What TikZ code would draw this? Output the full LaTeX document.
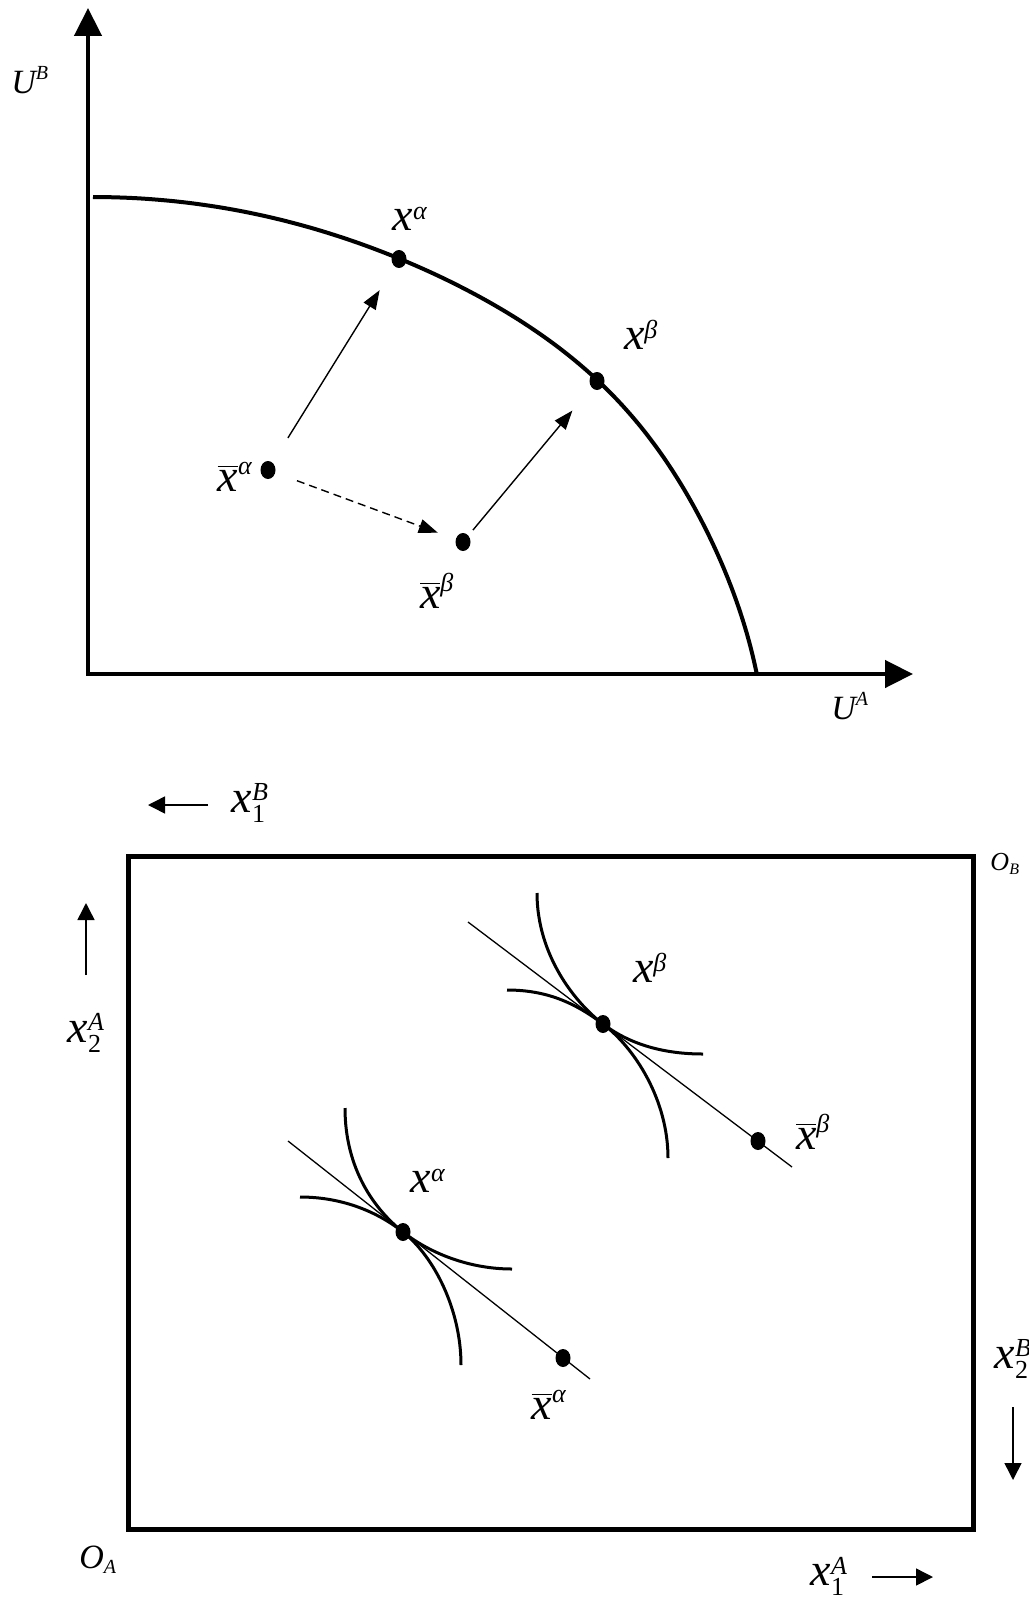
\documentclass[tikz,border=0pt]{standalone}
\usepackage{fontspec}
\setmainfont{Liberation Serif}
\usepackage{amsmath}
\usetikzlibrary{arrows.meta,shapes.geometric}

\DeclareMathSizes{46}{46}{26}{18}
\DeclareMathSizes{34}{34}{20}{15}
\DeclareMathSizes{26}{26}{16}{12}
\newcommand*{\vi}[1]{\text{\itshape #1}}

\begin{document}
\begin{tikzpicture}
[
	x=1pt,
	y=-1pt,
	dot/.style={ellipse,fill,inner sep=0pt,minimum width=15pt,minimum height=18pt},
	lbl/.style={inner sep=0pt,font=\fontsize{46}{52}\selectfont},
	lblmid/.style={inner sep=0pt,font=\fontsize{34}{40}\selectfont},
	lblsmall/.style={inner sep=0pt,font=\fontsize{26}{30}\selectfont},
	axis/.style={line width=4.5pt,{Triangle[length=28pt,width=27pt]}-{Triangle[length=28pt,width=27pt]}},
	thinarrow/.style={line width=1.4pt,-{Triangle[length=19pt,width=14pt]}},
	smallarrow/.style={line width=1.5pt,-{Triangle[length=17pt,width=17pt]}},
	indiff/.style={line width=3pt},
	budget/.style={line width=1.3pt}
]
	\useasboundingbox (0,0) rectangle (1028,1602);

	% utility space: axes
	\coordinate (O) at (88,674);
	\coordinate (UBtip) at (88,8);
	\coordinate (UAtip) at (913,674);
	\draw[axis] (UBtip) -- (O) -- (UAtip);
	\node[lblmid] (lUB) at (30,80) {$\vi{U}^{\vi{B}}$};
	\node[lblmid] (lUA) at (850,706) {$\vi{U}^{\vi{A}}$};

	% frontier
	\draw[line width=4pt] plot[domain=90:10, samples=60, smooth] ({93+674*cos(\x)+12*sin(2*\x)^6}, {774-577*sin(\x)});

	% allocations
	\node[dot] (uxa) at (399,259) {};
	\node[dot] (uxb) at (597,381) {};
	\node[dot] (uxab) at (268,470) {};
	\node[dot] (uxbb) at (463,542) {};
	\node[lbl] (luxa) at (410,219) {$\vi{x}^{\vi{α}}$};
	\node[lbl] (luxb) at (641,335) {$\vi{x}^{\vi{β}}$};
	\node[lbl] (luxab) at (235,477) {$\overline{\vi{x}}^{\vi{α}}$};
	\node[lbl] (luxbb) at (437,591) {$\overline{\vi{x}}^{\vi{β}}$};

	\draw[thinarrow,shorten <=29pt,shorten >=28pt] (uxab) -- (uxa);
	\draw[thinarrow,dash pattern=on 8pt off 5pt,shorten <=23pt,shorten >=19pt] (uxab) -- (uxbb);
	\draw[thinarrow,shorten <=7pt,shorten >=30pt] (uxbb) -- (uxb);

	% Edgeworth box
	\coordinate (OA) at (128,1529);
	\coordinate (OB) at (973,856);
	\draw[line width=5pt] (OA) rectangle (OB);
	\node[lblmid] (lOA) at (98,1560) {$\vi{O}_{\vi{A}}$};
	\node[lblsmall] (lOB) at (1005,864) {$\vi{O}_{\vi{B}}$};

	% goods directions
	\coordinate (x1Bs) at (208,805);
	\coordinate (x1Be) at (148,805);
	\coordinate (x2As) at (86,975);
	\coordinate (x2Ae) at (86,903);
	\coordinate (x2Bs) at (1013,1407);
	\coordinate (x2Be) at (1013,1480);
	\coordinate (x1As) at (872,1577);
	\coordinate (x1Ae) at (933,1577);
	\draw[smallarrow] (x1Bs) -- (x1Be);
	\draw[smallarrow] (x2As) -- (x2Ae);
	\draw[smallarrow] (x2Bs) -- (x2Be);
	\draw[smallarrow] (x1As) -- (x1Ae);
	\node[lbl] (lx1B) at (250,803) {$\vi{x}^{\vi{B}}_{\text{1}}$};
	\node[lbl] (lx2A) at (86,1033) {$\vi{x}^{\vi{A}}_{\text{2}}$};
	\node[lbl] (lx2B) at (1013,1359) {$\vi{x}^{\vi{B}}_{\text{2}}$};
	\node[lbl] (lx1A) at (829,1576) {$\vi{x}^{\vi{A}}_{\text{1}}$};

	% allocations in the box
	\node[dot] (exa) at (403,1232) {};
	\node[dot] (exab) at (563,1358) {};
	\node[dot] (exb) at (603,1024) {};
	\node[dot] (exbb) at (758,1141) {};
	\node[lbl] (lexa) at (428,1181) {$\vi{x}^{\vi{α}}$};
	\node[lbl] (lexab) at (549,1405) {$\overline{\vi{x}}^{\vi{α}}$};
	\node[lbl] (lexb) at (650,968) {$\vi{x}^{\vi{β}}$};
	\node[lbl] (lexbb) at (813,1132) {$\overline{\vi{x}}^{\vi{β}}$};

	% price lines
	\coordinate (ta1) at (288,1141);
	\coordinate (ta2) at (590,1379);
	\coordinate (tb1) at (468,922);
	\coordinate (tb2) at (792,1167);
	\draw[budget] (ta1) -- (ta2);
	\draw[budget] (tb1) -- (tb2);

	% indifference curves
	\draw[indiff] (345,1108) .. controls (345,1170) and (375.5,1210.3) .. (exa.center)
		.. controls (430.5,1253.7) and (470,1269) .. (512,1269);
	\draw[indiff] (300,1197) .. controls (340,1197) and (375.5,1210.3) .. (exa.center)
		.. controls (434.4,1256.8) and (461,1310) .. (461,1365);
	\draw[indiff] (537,893) .. controls (537,955) and (575.1,1002.9) .. (exb.center)
		.. controls (630.9,1045.1) and (665,1054) .. (703,1054);
	\draw[indiff] (507,990) .. controls (547,990) and (575.1,1002.9) .. (exb.center)
		.. controls (634.9,1048.1) and (668,1100) .. (668,1158);

\end{tikzpicture}
\end{document}
